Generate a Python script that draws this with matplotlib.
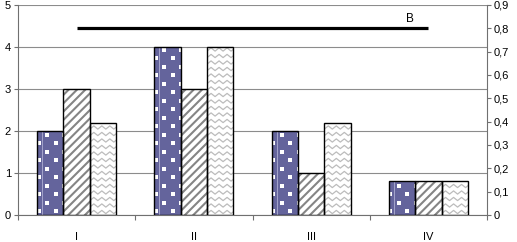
import numpy as np
import matplotlib
matplotlib.use("Agg")
import matplotlib.pyplot as plt
from matplotlib.lines import Line2D
from matplotlib.transforms import IdentityTransform
from matplotlib.ticker import FuncFormatter, MultipleLocator

categories = ["I", "II", "III", "IV"]
series1 = [2, 4, 2, 0.8]
series2 = [3, 3, 1, 0.8]
series3 = [2.2, 4, 2.2, 0.8]
line_b = [0.8, 0.8, 0.8, 0.8]
line_label = "B"

plt.rcParams['font.family'] = ['Liberation Sans', 'DejaVu Sans']
plt.rcParams['font.size'] = 8
plt.rcParams['hatch.linewidth'] = 1.5

W, H = 517, 242
fig = plt.figure(figsize=(W / 100, H / 100), dpi=100)
ax = fig.add_axes([18 / W, 27 / H, (487 - 18) / W, (215 - 5) / H])

x = np.arange(len(categories))
w = 0.225
blue = '#64649c'

ax.set_xlim(-0.5, len(categories) - 0.5)
ax.set_ylim(0, 5)
ax.set_axisbelow(True)
ax.yaxis.grid(True, color='#8c8c8c', lw=0.8)

b1 = ax.bar(x - w, series1, w, color=blue, lw=0, zorder=2)
b2 = ax.bar(x, series2, w, color='white', edgecolor='#858585', hatch='////', lw=0, zorder=2)
b3 = ax.bar(x + w, series3, w, color='white', lw=0, zorder=2)
for off, vals in [(-w, series1), (0, series2), (w, series3)]:
    ax.bar(x + off, vals, w, fill=False, edgecolor='black', lw=1.0, zorder=4)

for s in ['top', 'right']:
    ax.spines[s].set_visible(False)
for s in ['left', 'bottom']:
    ax.spines[s].set_color('#707070')

ax.set_yticks(np.arange(0, 6, 1))
ax.tick_params(axis='y', direction='out', length=3, width=0.8, color='#707070', pad=2, labelsize=8)
ax.set_xticks(x)
ax.set_xticklabels(categories)
ax.set_xticks(np.arange(-0.5, len(categories), 1), minor=True)
ax.tick_params(axis='x', which='major', length=0, pad=12, labelsize=8)
ax.tick_params(axis='x', which='minor', direction='out', length=3.5, width=0.8, color='#707070')

ax2 = ax.twinx()
ax2.set_ylim(0, 0.9)
ax2.plot(x, line_b, color='black', lw=2.3, solid_capstyle='butt', zorder=5)
ax2.annotate(line_label, xy=(x[-1], line_b[-1]), xytext=(-13, 7), textcoords='offset points',
             ha='center', va='center', fontsize=8.5)
for s in ['top', 'left', 'bottom']:
    ax2.spines[s].set_visible(False)
ax2.spines['right'].set_color('#707070')
ax2.yaxis.set_major_locator(MultipleLocator(0.1))
ax2.yaxis.set_major_formatter(FuncFormatter(lambda v, p: '0' if abs(v) < 1e-9 else f'{v:.1f}'.replace('.', ',')))
ax2.tick_params(axis='y', direction='out', length=3, width=0.8, color='#707070', pad=2, labelsize=8)

fig.canvas.draw()

# pattern decorations for bars (dotted squares / zigzag), clipped to each bar
for r in b1:
    bb = r.get_window_extent()
    xs, ys = [], []
    j = 0
    yy = bb.y0 + 4
    while yy < bb.y1 + 9:
        off = 8.5 if j % 2 else 0
        xx = bb.x0 + 1.5 + off - 17
        while xx < bb.x1 + 17:
            xs.append(xx)
            ys.append(yy)
            xx += 17
        yy += 8.5
        j += 1
    ln = Line2D(xs, ys, ls='none', marker='s', ms=2.8, mfc='white', mec='white', mew=0,
                transform=IdentityTransform(), zorder=3)
    ax.add_artist(ln)
    ln.set_clip_path(None)
    ln.set_clip_box(bb)
    vl = Line2D([bb.x0 + 5, bb.x0 + 5], [bb.y0, bb.y1], color='#a4a4cc', lw=0.7,
                transform=IdentityTransform(), zorder=3)
    ax.add_artist(vl)
    vl.set_clip_path(None)
    vl.set_clip_box(bb)

for r in b3:
    bb = r.get_window_extent()
    yy = bb.y0 + 3
    while yy < bb.y1 + 6:
        xs = np.arange(bb.x0 - 8, bb.x1 + 8, 4.0)
        ys = yy + np.where(np.arange(len(xs)) % 2 == 0, -1.6, 1.6)
        zl = Line2D(xs, ys, color='#bcbcbc', lw=0.9, transform=IdentityTransform(), zorder=3)
        ax.add_artist(zl)
        zl.set_clip_path(None)
        zl.set_clip_box(bb)
        yy += 6.5

fig.savefig('out.png', dpi=100)
